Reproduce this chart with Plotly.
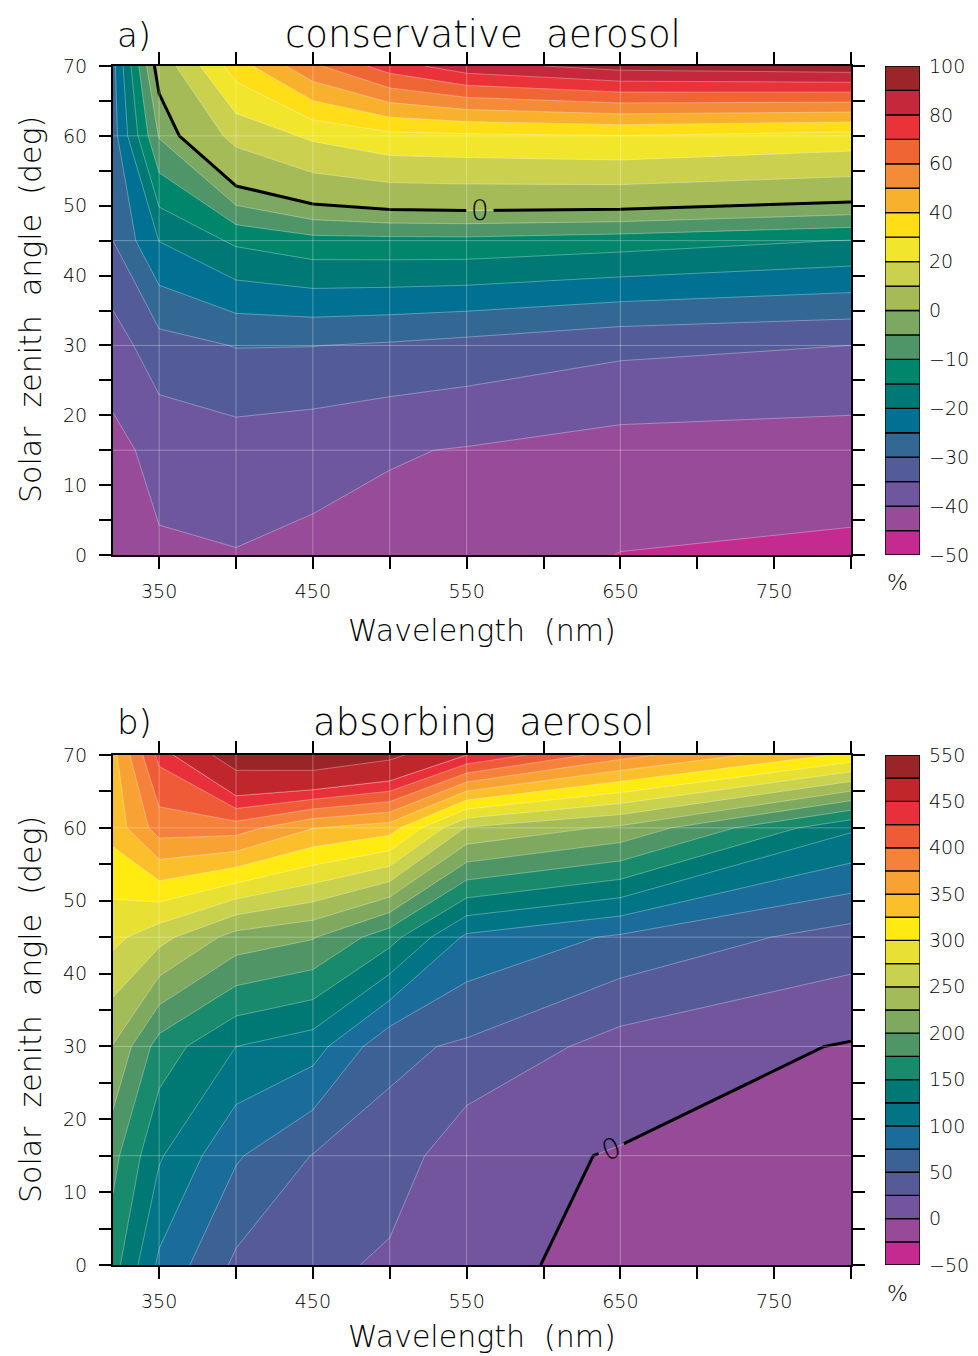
import numpy as np
import plotly.graph_objects as go

# ---------------- data ----------------
wavelength = [320, 350, 400, 450, 500, 550, 650, 800]   # nm
sza = [0, 15, 30, 45, 60, 70]                            # deg

# a) conservative aerosol (%), one list per wavelength, values at each SZA
cons_320 = [-43.0, -41.4, -37.5, -30.0, -27.2, -26.5]
cons_350 = [-40.6, -38.5, -31.9, -19.9, -4.6, 3.0]
cons_400 = [-40.2, -37.4, -29.8, -14.1, 12.9, 35.0]
cons_450 = [-41.1, -38.3, -29.9, -11.7, 21.8, 58.0]
cons_500 = [-41.7, -39.6, -30.6, -11.5, 27.3, 75.0]
cons_550 = [-42.5, -40.3, -31.6, -11.4, 28.2, 86.0]
cons_650 = [-45.1, -42.0, -33.8, -12.7, 29.8, 93.9]
cons_800 = [-45.9, -42.5, -35.0, -15.2, 26.0, 96.4]

# b) absorbing aerosol (%)
abs_320 = [160.5, 182.7, 224.0, 282.0, 334.0, 342.0]
abs_350 = [95.0, 128.0, 164.0, 259.0, 387.0, 432.0]
abs_400 = [45.0, 78.0, 125.0, 215.0, 387.0, 530.0]
abs_450 = [33.0, 49.0, 111.0, 202.0, 351.0, 540.0]
abs_500 = [20.0, 40.0, 56.0, 160.0, 337.0, 512.0]
abs_550 = [8.0, 7.0, 46.2, 95.0, 248.0, 450.0]
abs_650 = [-8.6, -1.5, 14.5, 71.3, 220.0, 385.0]
abs_800 = [-20.0, -15.0, -1.9, 38.75, 129.0, 319.0]

# contour levels (two uniform pieces each)
cons_low = (-50, 0, 5)
cons_high = (0, 100, 10)
abs_low = (-50, 450, 25)
abs_high = (450, 550, 50)

cons_colors = ['#c42a8f', '#984b98', '#6f579f', '#535c98', '#336895', '#007192',
               '#007875', '#00866b', '#4f9568', '#7da862', '#a5bb57', '#cbd14f',
               '#f1e62c', '#ffdd17', '#f8b12c', '#f48b37', '#ef6534', '#e93339',
               '#c4283a', '#9b252b']
abs_colors = ['#c42a8f', '#974a97', '#73559e', '#575a98', '#3c6195', '#1a6c9a',
              '#017585', '#007873', '#1a8a6c', '#4f9565', '#7ea95f', '#a3bb58',
              '#c8d24e', '#e8e134', '#ffea12', '#fbbf2c', '#f8a233', '#f5813a',
              '#ef5a37', '#e8303a', '#c0272d', '#9a2529']

cons_cbar_labels = [-50, -40, -30, -20, -10, 0, 20, 40, 60, 80, 100]
abs_cbar_labels = [-50, 0, 50, 100, 150, 200, 250, 300, 350, 400, 450, 550]

# ---------------- helpers ----------------
OFF = 8                      # page body margin
W, H = 978 - OFF, 1356 - OFF
FONT = "DejaVu Sans"
WEIGHT = 200
TXT = "#000000"


def px(x):
    return (x - OFF) / W


def py(y):
    return 1 - (y - OFF) / H


def fnt(size):
    return dict(family=FONT, size=size, color=TXT, weight=WEIGHT)


def levels(lo, hi):
    a = list(np.arange(lo[0], lo[1] + 1e-9, lo[2]))
    b = list(np.arange(hi[0] + hi[2], hi[1] + 1e-9, hi[2]))
    return [float(v) for v in a + b]


def fill_trace(z, lev, colors, transparent_bg, xa, ya):
    start, end, size = lev
    nc = int(round((end - start) / size)) + 1
    nb = nc - 1
    bg = 'rgba(0,0,0,0)' if transparent_bg else colors[0]
    cs = [[0.0, bg]]
    for k in range(nb):
        cs.append([(k + 1) / nc, colors[k]])
    cs.append([1.0, colors[-1]])
    return go.Contour(
        x=wavelength, y=sza, z=z, xaxis=xa, yaxis=ya,
        autocontour=False,
        contours=dict(start=start, end=end, size=size, coloring='fill', showlines=True),
        colorscale=cs, showscale=False,
        line=dict(color='rgba(255,255,255,0.45)', width=0.7, smoothing=0),
        hoverinfo='skip')


def zero_line(z, xa, ya):
    return go.Contour(
        x=wavelength, y=sza, z=z, xaxis=xa, yaxis=ya,
        autocontour=False,
        contours=dict(start=0, end=0, size=1, coloring='none', showlabels=True,
                      labelfont=dict(family=FONT, size=28, color='black', weight=WEIGHT)),
        line=dict(color='black', width=3, smoothing=0),
        showscale=False, hoverinfo='skip')


def cbar_trace(colors, xa, ya):
    n = len(colors)
    return go.Bar(x=[0] * n, y=[1] * n, base=list(range(n)), width=1,
                  marker=dict(color=colors, line=dict(color='black', width=1.3)),
                  xaxis=xa, yaxis=ya, showlegend=False, hoverinfo='skip')


cons_z = np.array([cons_320, cons_350, cons_400, cons_450,
                   cons_500, cons_550, cons_650, cons_800]).T
abs_z = np.array([abs_320, abs_350, abs_400, abs_450,
                  abs_500, abs_550, abs_650, abs_800]).T

fig = go.Figure()
# top panel
nlo = int(round((cons_low[1] - cons_low[0]) / cons_low[2]))
fig.add_trace(fill_trace(cons_z, cons_low, cons_colors[:nlo], False, 'x', 'y'))
fig.add_trace(fill_trace(cons_z, cons_high, cons_colors[nlo:], True, 'x', 'y'))
fig.add_trace(zero_line(cons_z, 'x', 'y'))
fig.add_trace(cbar_trace(cons_colors, 'x2', 'y2'))
# bottom panel
nlo = int(round((abs_low[1] - abs_low[0]) / abs_low[2]))
fig.add_trace(fill_trace(abs_z, abs_low, abs_colors[:nlo], False, 'x3', 'y3'))
fig.add_trace(fill_trace(abs_z, abs_high, abs_colors[nlo:], True, 'x3', 'y3'))
fig.add_trace(zero_line(abs_z, 'x3', 'y3'))
fig.add_trace(cbar_trace(abs_colors, 'x4', 'y4'))

# ---------------- axes ----------------
main_x = [px(113), px(851)]
cb_x = [px(885), px(920)]
top_y = [py(555), py(66)]
bot_y = [py(1265), py(755)]

tickfont = fnt(19)


def main_xaxis(anchor):
    return dict(domain=main_x, anchor=anchor, range=[320, 800],
                tickmode='linear', tick0=350, dtick=100,
                ticks='outside', ticklen=12, tickwidth=2, tickcolor='black',
                minor=dict(ticks='outside', ticklen=12, tickwidth=2, tickcolor='black',
                           tick0=350, dtick=50, showgrid=False),
                showline=True, linecolor='black', linewidth=2, mirror='ticks',
                showgrid=False, zeroline=False, tickfont=tickfont,
                ticklabelstandoff=6,
                layer='above traces', automargin=False, fixedrange=True)


def main_yaxis(anchor, dom):
    return dict(domain=dom, anchor=anchor, range=[0, 70],
                tickmode='linear', tick0=0, dtick=10,
                ticks='outside', ticklen=12, tickwidth=2, tickcolor='black',
                minor=dict(ticks='outside', ticklen=12, tickwidth=2, tickcolor='black',
                           tick0=0, dtick=5, showgrid=False),
                showline=True, linecolor='black', linewidth=2, mirror='ticks',
                showgrid=False, zeroline=False, tickfont=tickfont,
                ticklabelstandoff=8,
                layer='above traces', automargin=False, fixedrange=True)


def cb_yaxis(anchor, dom, lev_lo, lev_hi, labels, n):
    lv = levels(lev_lo, lev_hi)
    pos = [lv.index(float(v)) for v in labels]
    txt = [str(v).replace('-', '\u2212') for v in labels]
    return dict(domain=dom, anchor=anchor, range=[0, n], side='right',
                tickmode='array', tickvals=pos, ticktext=txt, ticks='',
                ticklabelstandoff=8,
                showline=False, showgrid=False, zeroline=False,
                tickfont=tickfont, automargin=False, fixedrange=True)


def cb_xaxis(anchor):
    return dict(domain=cb_x, anchor=anchor, range=[-0.5, 0.5], visible=False,
                fixedrange=True)


fig.update_layout(
    width=W, height=H, margin=dict(l=0, r=0, t=0, b=0),
    paper_bgcolor='white', plot_bgcolor='white', barmode='overlay',
    showlegend=False,
    xaxis=main_xaxis('y'), yaxis=main_yaxis('x', top_y),
    xaxis2=cb_xaxis('y2'),
    yaxis2=cb_yaxis('x2', top_y, cons_low, cons_high, cons_cbar_labels, len(cons_colors)),
    xaxis3=main_xaxis('y3'), yaxis3=main_yaxis('x3', bot_y),
    xaxis4=cb_xaxis('y4'),
    yaxis4=cb_yaxis('x4', bot_y, abs_low, abs_high, abs_cbar_labels, len(abs_colors)),
)

# faint lines along the interior data grid
shapes = []
for xa, ya in (('x', 'y'), ('x3', 'y3')):
    for w in wavelength[1:-1]:
        shapes.append(dict(type='line', xref=xa, yref=ya, x0=w, x1=w,
                           y0=sza[0], y1=sza[-1], layer='above',
                           line=dict(color='rgba(255,255,255,0.3)', width=1)))
    for s in sza[1:-1]:
        shapes.append(dict(type='line', xref=xa, yref=ya, x0=wavelength[0],
                           x1=wavelength[-1], y0=s, y1=s, layer='above',
                           line=dict(color='rgba(255,255,255,0.3)', width=1)))
fig.update_layout(shapes=shapes)


# ---------------- texts ----------------
def ann(text, x, y, size, angle=0):
    return dict(text=text, x=px(x), y=py(y), xref='paper', yref='paper',
                showarrow=False, textangle=angle, xanchor='center', yanchor='middle',
                font=fnt(size))


fig.update_layout(annotations=[
    ann('a)', 134, 35, 34),
    ann('conservative  aerosol', 483, 35, 37),
    ann('b)', 134, 722, 34),
    ann('absorbing  aerosol', 483, 722, 37),
    ann('Wavelength  (nm)', 482, 630, 30),
    ann('Wavelength  (nm)', 482, 1336, 30),
    ann('Solar  zenith  angle  (deg)', 30, 310, 30, -90),
    ann('Solar  zenith  angle  (deg)', 30, 1010, 30, -90),
    ann('%', 897, 582, 22),
    ann('%', 897, 1293, 22),
])

fig.write_html("out.html")
